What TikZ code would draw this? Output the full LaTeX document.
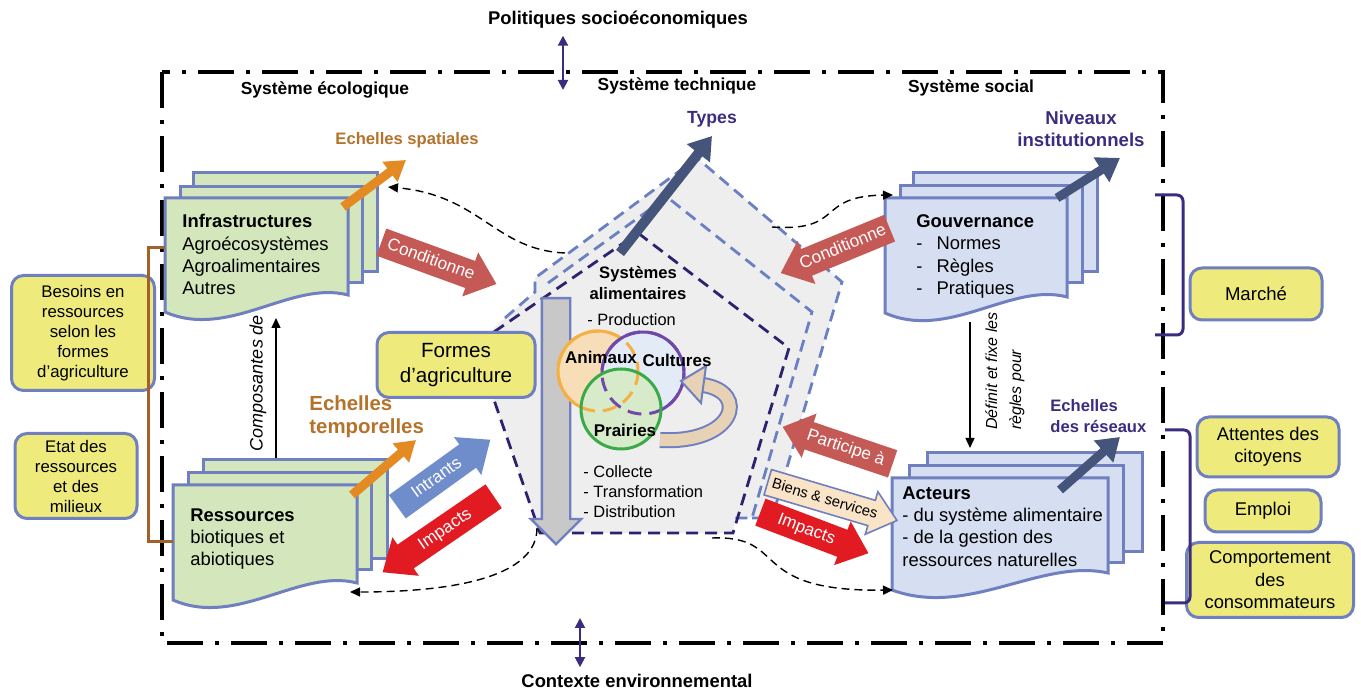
\documentclass[tikz,border=0pt]{standalone}
\usepackage{fontspec}
\setmainfont{Liberation Sans}
\usetikzlibrary{arrows.meta,shapes.arrows}
\definecolor{docgreen}{RGB}{212,230,188}
\definecolor{docblue}{RGB}{214,223,242}
\definecolor{docline}{RGB}{111,127,191}
\definecolor{boxyellow}{RGB}{238,235,124}
\definecolor{purpl}{RGB}{60,44,128}
\definecolor{ochre}{RGB}{181,114,42}
\definecolor{orangearr}{RGB}{227,138,34}
\definecolor{slatearr}{RGB}{68,84,122}
\definecolor{condred}{RGB}{196,89,86}
\definecolor{brightred}{RGB}{226,27,35}
\definecolor{intrblue}{RGB}{111,141,203}
\definecolor{beige}{RGB}{249,228,200}
\definecolor{loopbeige}{RGB}{232,210,182}
\definecolor{pentagrey}{RGB}{238,238,238}
\definecolor{arrgrey}{RGB}{200,200,200}
\definecolor{pentblue}{RGB}{106,128,194}
\definecolor{pentdark}{RGB}{46,34,112}
\definecolor{brownline}{RGB}{160,98,42}
\definecolor{anifill}{RGB}{248,222,184}
\definecolor{aniline}{RGB}{245,176,67}
\definecolor{culfill}{RGB}{227,235,247}
\definecolor{culline}{RGB}{112,72,168}
\definecolor{prafill}{RGB}{215,234,201}
\definecolor{praline}{RGB}{58,170,72}
\begin{document}
\begin{tikzpicture}[x=0.5pt,y=-0.5pt,
  frame/.style={line width=2.2pt,dash pattern=on 18pt off 6pt on 2pt off 6pt},
  sheet/.style={draw=docline,line width=1.5pt},
  ybox/.style={draw=docline,fill=boxyellow,line width=1.5pt,rounded corners=6pt,align=center,inner sep=0pt},
  doctxt/.style={font=\fontsize{9.2}{11.2}\selectfont,align=left,inner sep=0pt,anchor=north west},
  sectlbl/.style={font=\bfseries\fontsize{8.7}{10}\selectfont},
  blockarr/.style={single arrow,single arrow head extend=4.5pt,single arrow tip angle=80,anchor=tail,
    inner xsep=2pt,inner ysep=3pt,text height=6.3pt,text depth=1.7pt,font=\fontsize{8.6}{9}\selectfont,text=white},
  conn/.style={line width=0.7pt,dash pattern=on 4pt off 2.5pt,-{Triangle[length=5pt,width=4.5pt]}},
  plainarr/.style={line width=0.7pt,-{Triangle[length=5pt,width=4.5pt]}},
  dbl/.style={purpl,line width=1pt,{Triangle[length=5pt,width=5pt]}-{Triangle[length=5pt,width=5pt]}},
  oarr/.style={orangearr,line width=4.5pt,-{Triangle[length=10pt,width=12pt]}},
  sarr/.style={slatearr,line width=5pt,-{Triangle[length=11pt,width=14pt]}},
  pentline/.style={pentblue,line width=1.4pt,dash pattern=on 6pt off 3.5pt},
  pentinner/.style={pentdark,line width=1.4pt,dash pattern=on 6pt off 3.5pt},
  bracket/.style={line width=1.5pt,rounded corners=3pt}]
\useasboundingbox (0,0) rectangle (1361,689);

\draw[frame] (162,72) rectangle (1163,643);
\node[font=\bfseries\fontsize{9.2}{11}\selectfont] (polit) at (618,20) {Politiques socioéconomiques};
\node[font=\bfseries\fontsize{9.2}{11}\selectfont] (contexte) at (637,681) {Contexte environnemental};
\coordinate (topin) at (563,90);
\coordinate (botin) at (580,618);
\draw[dbl] (polit.south -| topin) -- (topin);
\draw[dbl] (botin) -- (contexte.north -| botin);
\node[sectlbl] (ecolo) at (325,90) {Système écologique};
\node[sectlbl] (techn) at (677,86) {Système technique};
\node[sectlbl] (social) at (971,88) {Système social};

% systeme technique
\fill[pentagrey] (697,158) -- (842,282) -- (772,518) -- (735,518) -- (733,533) -- (540,533) -- (475,345) -- (505,318) -- (535,292) -- (535,278) -- cycle;
\draw[pentline] (505,318) -- (535,292) -- (535,278) -- (697,158) -- (842,282) -- (772,518) -- (752,518);
\draw[pentline] (548,283) -- (667,197) -- (812,312) -- (752,518) -- (735,518);
\draw[pentinner] (638,233) -- (789,348) -- (733,533) -- (540,533) -- (475,345) -- cycle;
\node[single arrow,draw=docline,fill=arrgrey,line width=1.2pt,single arrow head extend=5.5pt,single arrow tip angle=90,
  inner xsep=0pt,inner ysep=6.5pt,text height=0pt,text depth=0pt,minimum height=123pt,rotate=-90,anchor=tail] (flux) at (556,297) {};
\coordinate (typesT) at (620,253);
\coordinate (typesH) at (712,136);
\draw[sarr] (typesT) -- (typesH);
\node[font=\bfseries\fontsize{8.8}{10}\selectfont,text=purpl] (types) at (712,119) {Types};
\node[font=\bfseries\fontsize{8.3}{10.5}\selectfont,align=center] (sysalim) at (638,283) {Systèmes\\alimentaires};
\node[font=\fontsize{8.2}{10}\selectfont,anchor=west,inner sep=0pt] (prod) at (587,320) {- Production};
\node[font=\fontsize{8.2}{10}\selectfont,anchor=west,align=left,inner sep=0pt] (aval) at (583,492) {- Collecte\\- Transformation\\- Distribution};

\coordinate (ani) at (598,371);
\coordinate (cul) at (643,373);
\coordinate (pra) at (621,409);
\fill[anifill] (ani) circle[radius=40];
\fill[culfill] (cul) circle[radius=41];
\fill[prafill] (pra) circle[radius=40];
\draw[aniline,line width=1.5pt,dash pattern=on 7pt off 4pt] (ani) circle[radius=40];
\draw[culline,line width=1.5pt,dash pattern=on 7pt off 4pt] (cul) circle[radius=41];
\begin{scope}[even odd rule]
  \clip (0,0) rectangle (1361,689) (cul) circle[radius=41];
  \clip (0,0) rectangle (1361,689) (pra) circle[radius=40];
  \draw[aniline,line width=1.5pt] (ani) circle[radius=40];
\end{scope}
\begin{scope}[even odd rule]
  \clip (0,0) rectangle (1361,689) (pra) circle[radius=40];
  \draw[culline,line width=1.5pt] (cul) circle[radius=41];
\end{scope}
\draw[praline,line width=1.5pt] (pra) circle[radius=40];
\draw[docline,line width=1pt,double=loopbeige,double distance=6pt] (660,440) .. controls (735,444) and (750,392) .. (703,385);
\filldraw[fill=loopbeige,draw=docline,line width=1pt] (681,381) -- (706,366) -- (701,403) -- cycle;
\node[font=\bfseries\fontsize{8.5}{10}\selectfont,inner sep=0pt] (animaux) at (601,357) {Animaux};
\node[font=\bfseries\fontsize{8.5}{10}\selectfont,inner sep=0pt] (cultures) at (677,360) {Cultures};
\node[font=\bfseries\fontsize{8.5}{10}\selectfont,inner sep=0pt] (prairies) at (625,430) {Prairies};

\node[ybox,minimum width=79pt,minimum height=32.5pt,font=\fontsize{10.3}{12.5}\selectfont] (formes) at (456,365) {Formes\\d’agriculture};

% systeme ecologique
\fill[docgreen,sheet] (193,173) rectangle (377,272);
\fill[docgreen,sheet] (180,187) rectangle (362,283);
\filldraw[fill=docgreen,sheet] (165,198) -- (348,198) -- (348,295) .. controls (291,280) and (229,340) .. (165,312) -- cycle;
\node[doctxt] (infra) at (182,214) {\textbf{Infrastructures}\\Agroécosystèmes\\Agroalimentaires\\Autres};
\fill[docgreen,sheet] (203,460) rectangle (387,559);
\fill[docgreen,sheet] (188,473) rectangle (371,570);
\filldraw[fill=docgreen,sheet] (173,485) -- (357,485) -- (357,583) .. controls (300,568) and (237,628) .. (173,600) -- cycle;
\node[doctxt] (ress) at (190,508) {\textbf{Ressources}\\biotiques et\\abiotiques};
\coordinate (spatT) at (343,207);
\coordinate (spatH) at (406,160);
\draw[oarr] (spatT) -- (spatH);
\node[font=\bfseries\fontsize{8.3}{10}\selectfont,text=ochre] (spat) at (407,140) {Echelles spatiales};
\coordinate (tempT) at (352,495);
\coordinate (tempH) at (416,440);
\draw[oarr] (tempT) -- (tempH);
\node[font=\bfseries\fontsize{10.2}{11.5}\selectfont,text=ochre,align=left,anchor=west,inner sep=0pt] (temp) at (309,417) {Echelles\\temporelles};
\coordinate (ressT) at (276,458);
\coordinate (infraB) at (276,318);
\draw[plainarr] (ressT) -- (infraB);
\node[font=\itshape\fontsize{9}{10}\selectfont,rotate=90] (compo) at (258,383) {Composantes de};

\node[ybox,minimum width=71.5pt,minimum height=57.5pt,font=\fontsize{8.4}{10}\selectfont] (besoins) at (83,333) {Besoins en\\ressources\\selon les\\formes\\d’agriculture};
\node[ybox,minimum width=61pt,minimum height=42.5pt,font=\fontsize{8.4}{10}\selectfont] (etat) at (76,476) {Etat des\\ressources\\et des\\milieux};
\draw[brownline,line width=1.5pt] (165,248) -- (148,248) -- (148,542) -- (173,542);

% systeme social
\fill[docblue,sheet] (913,173) rectangle (1097,272);
\fill[docblue,sheet] (900,186) rectangle (1082,283);
\filldraw[fill=docblue,sheet] (885,198) -- (1067,198) -- (1067,297) .. controls (1011,282) and (949,341) .. (885,313) -- cycle;
\node[doctxt] (gouv) at (916,214) {\textbf{Gouvernance}\\-\hspace{7pt}Normes\\-\hspace{7pt}Règles\\-\hspace{7pt}Pratiques};
\fill[docblue,sheet] (927,453) rectangle (1142,552);
\fill[docblue,sheet] (909,466) rectangle (1123,563);
\filldraw[fill=docblue,sheet] (892,478) -- (1108,478) -- (1108,573) .. controls (1041,558) and (968,618) .. (892,590) -- cycle;
\node[doctxt] (acteurs) at (902,486) {\textbf{Acteurs}\\- du système alimentaire\\- de la gestion des\\ressources naturelles};
\coordinate (nivT) at (1057,198);
\coordinate (nivH) at (1120,158);
\draw[sarr,line width=4.5pt] (nivT) -- (nivH);
\node[font=\bfseries\fontsize{9.3}{11}\selectfont,text=purpl,align=center] (niveaux) at (1081,129) {Niveaux\\institutionnels};
\coordinate (resT) at (1060,490);
\coordinate (resH) at (1120,437);
\draw[sarr,line width=4.5pt] (resT) -- (resH);
\node[font=\bfseries\fontsize{8.3}{10.5}\selectfont,text=purpl,align=left,anchor=west,inner sep=0pt] (reseaux) at (1050,416) {Echelles\\des réseaux};
\coordinate (gouvB) at (970,322);
\coordinate (actT) at (970,448);
\draw[plainarr] (gouvB) -- (actT);
\node[font=\itshape\fontsize{8}{12}\selectfont,rotate=90,align=left] (definit) at (1005,371) {Définit et fixe les\\règles pour};

\node[ybox,minimum width=66pt,minimum height=26pt,font=\fontsize{9.3}{11}\selectfont] (marche) at (1256,294) {Marché};
\node[ybox,minimum width=71pt,minimum height=30pt,font=\fontsize{9.2}{11.2}\selectfont] (attentes) at (1268,447) {Attentes des\\citoyens};
\node[ybox,minimum width=58pt,minimum height=21pt,font=\fontsize{9.2}{11.2}\selectfont] (emploi) at (1263,511) {Emploi};
\node[ybox,minimum width=83.5pt,minimum height=37.5pt,font=\fontsize{9.2}{11.2}\selectfont] (comport) at (1270,580) {Comportement\\des\\consommateurs};
\draw[purpl,bracket] (1155,195) -- (1183,195) -- (1183,335) -- (1155,335);
\draw[purpl,bracket] (1165,430) -- (1190,430) -- (1190,603) -- (1165,603);

% fleches
\node[blockarr,fill=condred,rotate=-20,minimum height=61.2pt] (condL) at (381,242) {Conditionne};
\node[blockarr,fill=condred,rotate=22.4,shape border rotate=180,minimum height=57.8pt] (condR) at (890,228) {Conditionne};
\node[blockarr,fill=condred,rotate=-18.6,shape border rotate=180,minimum height=58pt] (particip) at (893,464) {Participe à};
\node[blockarr,fill=beige,draw=docline,line width=0.8pt,text=black,rotate=-16.5,minimum height=65.2pt,
  inner ysep=2.2pt,font=\fontsize{7.4}{8}\selectfont] (biens) at (767,482) {Biens \& services};
\node[blockarr,fill=brightred,rotate=-20.8,minimum height=57.8pt] (impR) at (760,512) {Impacts};
\node[blockarr,fill=intrblue,rotate=35.8,minimum height=57.3pt] (intrants) at (397,507) {Intrants};
\node[blockarr,fill=brightred,rotate=34.4,shape border rotate=180,minimum height=67.3pt] (impL) at (494,496) {Impacts};

\coordinate (ca1) at (565,253);
\coordinate (ca2) at (388,187);
\coordinate (cb1) at (772,227);
\coordinate (cb2) at (893,195);
\coordinate (cc1) at (537,528);
\coordinate (cc2) at (350,592);
\coordinate (cd1) at (712,538);
\coordinate (cd2) at (893,590);
\draw[conn] (ca1) .. controls (495,250) and (480,195) .. (ca2);
\draw[conn] (cb1) .. controls (845,232) and (815,196) .. (cb2);
\draw[conn] (cc1) .. controls (537,575) and (460,592) .. (cc2);
\draw[conn] (cd1) .. controls (790,535) and (745,592) .. (cd2);
\end{tikzpicture}
\end{document}
